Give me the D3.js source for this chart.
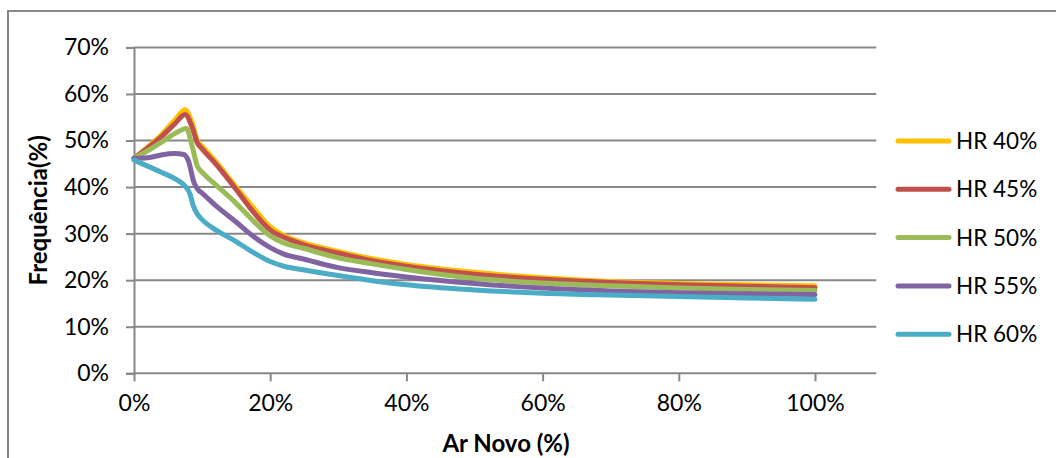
<!DOCTYPE html>
<html>
<head>
<meta charset="utf-8">
<script src="https://cdn.jsdelivr.net/npm/d3@7"></script>
<style>
  html, body { margin: 0; padding: 0; background: #fff; }
  svg { display: block; }
  text { font-family: Lato, "Open Sans", sans-serif; fill: #000; }
</style>
</head>
<body>
<svg id="chart" width="1056" height="458"></svg>
<script>
// ---- Data (fractions) ----
const seriesNames = ["HR 40%", "HR 45%", "HR 50%", "HR 55%", "HR 60%"];
const seriesColors = ["#FFC000", "#C0504D", "#9BBB59", "#8064A2", "#4BACC6"];

const xHR40 = [0, 0.02, 0.04, 0.06, 0.075, 0.085, 0.093, 0.10, 0.12, 0.15, 0.17, 0.20, 0.22, 0.25, 0.30, 0.35, 0.40, 0.50, 0.60, 0.70, 0.80, 0.90, 1.00];
const yHR40 = [0.462, 0.486, 0.512, 0.544, 0.566, 0.540, 0.500, 0.488, 0.455, 0.400, 0.365, 0.315, 0.296, 0.280, 0.262, 0.246, 0.234, 0.217, 0.205, 0.197, 0.193, 0.190, 0.188];

const xHR45 = [0, 0.02, 0.04, 0.06, 0.075, 0.085, 0.093, 0.10, 0.12, 0.15, 0.17, 0.20, 0.22, 0.25, 0.30, 0.35, 0.40, 0.50, 0.60, 0.70, 0.80, 0.90, 1.00];
const yHR45 = [0.462, 0.484, 0.508, 0.536, 0.556, 0.530, 0.495, 0.482, 0.450, 0.395, 0.356, 0.308, 0.292, 0.276, 0.258, 0.242, 0.230, 0.213, 0.202, 0.195, 0.190, 0.187, 0.184];

const xHR50 = [0, 0.02, 0.04, 0.06, 0.077, 0.085, 0.093, 0.10, 0.12, 0.15, 0.17, 0.20, 0.22, 0.25, 0.30, 0.35, 0.40, 0.50, 0.60, 0.70, 0.80, 0.90, 1.00];
const yHR50 = [0.462, 0.478, 0.496, 0.515, 0.526, 0.490, 0.445, 0.432, 0.405, 0.365, 0.335, 0.295, 0.280, 0.268, 0.248, 0.235, 0.223, 0.204, 0.194, 0.188, 0.183, 0.180, 0.178];

const xHR55 = [0, 0.02, 0.04, 0.06, 0.073, 0.080, 0.088, 0.095, 0.10, 0.12, 0.15, 0.17, 0.20, 0.22, 0.25, 0.30, 0.35, 0.40, 0.50, 0.60, 0.70, 0.80, 0.90, 1.00];
const yHR55 = [0.462, 0.463, 0.469, 0.472, 0.470, 0.456, 0.410, 0.393, 0.387, 0.360, 0.325, 0.300, 0.270, 0.256, 0.245, 0.227, 0.216, 0.207, 0.193, 0.183, 0.177, 0.173, 0.171, 0.169];

const xHR60 = [0, 0.02, 0.04, 0.06, 0.073, 0.082, 0.087, 0.093, 0.10, 0.12, 0.15, 0.17, 0.20, 0.22, 0.25, 0.30, 0.35, 0.40, 0.50, 0.60, 0.70, 0.80, 0.90, 1.00];
const yHR60 = [0.458, 0.445, 0.432, 0.418, 0.405, 0.386, 0.360, 0.342, 0.330, 0.308, 0.283, 0.264, 0.240, 0.230, 0.222, 0.210, 0.199, 0.190, 0.179, 0.172, 0.168, 0.165, 0.162, 0.159];

const xTicks = [0, 0.2, 0.4, 0.6, 0.8, 1.0];
const yTicks = [0, 0.1, 0.2, 0.3, 0.4, 0.5, 0.6, 0.7];
const xTitle = "Ar Novo (%)";
const yTitle = "Frequência(%)";

const seriesX = [xHR40, xHR45, xHR50, xHR55, xHR60];
const seriesY = [yHR40, yHR45, yHR50, yHR55, yHR60];

// ---- Layout ----
const svg = d3.select("#chart");
const plotLeft = 134, plotRight = 815, plotTop = 47.4, plotBottom = 373.3;
const gridEnd = 1.09;
const gridColor = "#878787";

const x = d3.scaleLinear().domain([0, 1]).range([plotLeft, plotRight]);
const y = d3.scaleLinear().domain([0, 0.7]).range([plotBottom, plotTop]);
const pct = d3.format(".0%");

// outer chart border
svg.append("rect")
  .attr("x", 8).attr("y", 11)
  .attr("width", 1100).attr("height", 500)
  .attr("fill", "none").attr("stroke", gridColor).attr("stroke-width", 2);

// horizontal gridlines
svg.append("g").selectAll("line").data(yTicks.filter(d => d > 0)).join("line")
  .attr("x1", x(0)).attr("x2", x(gridEnd))
  .attr("y1", d => y(d)).attr("y2", d => y(d))
  .attr("stroke", gridColor).attr("stroke-width", 2);

// Y axis
const yAxis = svg.append("g").attr("transform", `translate(${x(0)},0)`)
  .call(d3.axisLeft(y).tickValues(yTicks).tickFormat(pct).tickSize(8).tickPadding(17));
yAxis.select(".domain").attr("stroke", gridColor).attr("stroke-width", 2);
yAxis.selectAll(".tick line").attr("stroke", gridColor).attr("stroke-width", 2);
yAxis.selectAll(".tick text").style("font-family", "Lato, sans-serif").style("font-size", "23px").attr("fill", "#000");

// X axis
const xAxis = svg.append("g").attr("transform", `translate(0,${y(0)})`)
  .call(d3.axisBottom(x).tickValues(xTicks).tickFormat(pct).tickSize(8).tickPadding(13));
xAxis.select(".domain").remove();
xAxis.append("line").attr("x1", x(0)).attr("x2", x(gridEnd)).attr("y1", 0).attr("y2", 0)
  .attr("stroke", gridColor).attr("stroke-width", 2);
xAxis.selectAll(".tick line").attr("stroke", gridColor).attr("stroke-width", 2);
xAxis.selectAll(".tick text").style("font-family", "Lato, sans-serif").style("font-size", "23px").attr("fill", "#000");

// series lines
const line = d3.line().x(d => x(d[0])).y(d => y(d[1])).curve(d3.curveMonotoneX);
seriesNames.forEach((name, i) => {
  const pts = seriesX[i].map((v, j) => [v, seriesY[i][j]]);
  svg.append("path").datum(pts)
    .attr("d", line)
    .attr("fill", "none")
    .attr("stroke", seriesColors[i])
    .attr("stroke-width", 5)
    .attr("stroke-linejoin", "round")
    .attr("stroke-linecap", "round");
});

// legend
const legend = svg.append("g");
seriesNames.forEach((name, i) => {
  const ly = 141 + i * 48.3;
  legend.append("line")
    .attr("x1", 898).attr("x2", 949).attr("y1", ly).attr("y2", ly)
    .attr("stroke", seriesColors[i]).attr("stroke-width", 5).attr("stroke-linecap", "round");
  legend.append("text")
    .attr("x", 956).attr("y", ly).attr("dy", "0.36em")
    .style("font-size", "22.5px")
    .text(name);
});

// axis titles
svg.append("text")
  .attr("x", 506).attr("y", 452)
  .attr("text-anchor", "middle")
  .style("font-size", "24px").style("font-weight", "bold")
  .text(xTitle);

svg.append("text")
  .attr("transform", `translate(47,${(plotTop + plotBottom) / 2}) rotate(-90)`)
  .attr("text-anchor", "middle")
  .style("font-size", "24px").style("font-weight", "bold")
  .text(yTitle);
</script>
</body>
</html>
